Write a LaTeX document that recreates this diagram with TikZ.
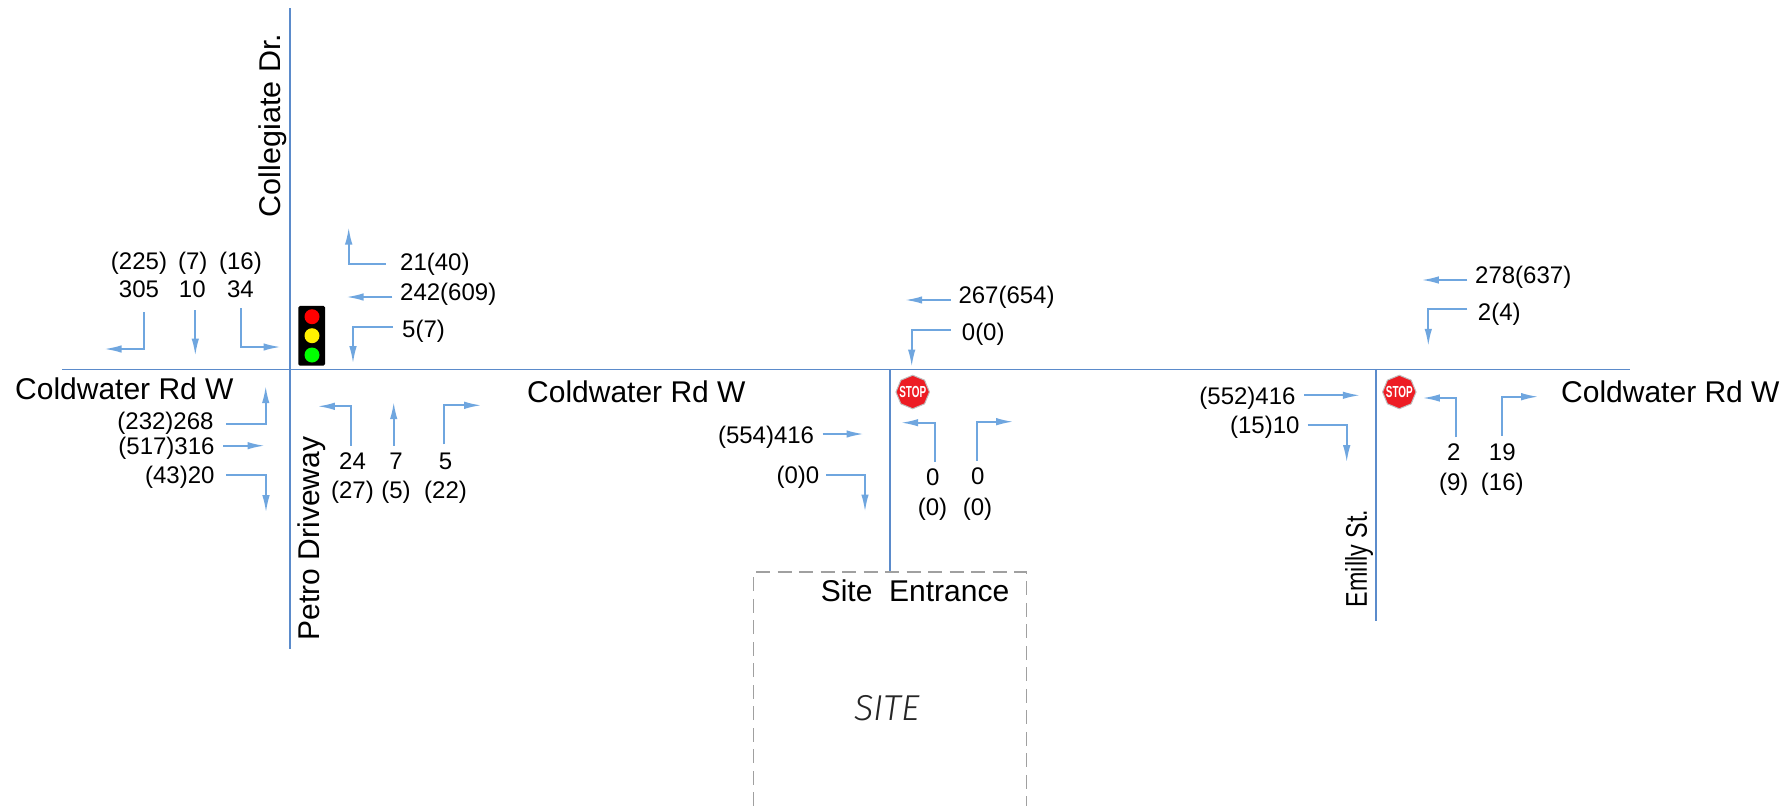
\documentclass[tikz,border=0pt]{standalone}
\usepackage{fontspec}
\setmainfont{Liberation Sans}
\newfontfamily\sitefont{Fira Sans}[UprightFont={* Light},ItalicFont={* Light Italic}]
\usetikzlibrary{arrows.meta,shapes.geometric}
\definecolor{roadblue}{HTML}{5B8BCB}
\definecolor{flowblue}{HTML}{6FA6DF}
\definecolor{sitegray}{HTML}{A0A0A0}
\definecolor{stopred}{HTML}{ED1C24}
\tikzset{
  road/.style={draw=roadblue,line width=1.7pt},
  flow/.style={draw=flowblue,line width=1.7pt,shorten >=-1.5pt,-{Latex[length=17pt,width=7.5pt]}},
  vol/.style={font=\fontsize{24}{24}\selectfont,inner sep=0pt,text height=17.2pt,text depth=0pt},
  roadname/.style={font=\fontsize{30}{30}\selectfont,inner sep=0pt,text height=21.5pt,text depth=0pt},
  stopsign/.style={regular polygon,regular polygon sides=8,shape border rotate=22.5,fill=stopred,draw=black!25,line width=1pt,minimum size=33.5pt,inner sep=0pt},
  stoptext/.style={text=white,font=\bfseries\fontsize{16}{16}\selectfont,inner sep=0pt,xscale=0.62},
  lamp/.style={circle,inner sep=0pt,minimum size=15pt},
}
\begin{document}
\begin{tikzpicture}[x=1pt,y=-1pt]
\useasboundingbox (0,0) rectangle (1792,806);
% roads
\coordinate (hw) at (62,369.4); \coordinate (he) at (1630,369.4);
\coordinate (c1n) at (290,8); \coordinate (c1s) at (290,649);
\coordinate (c2n) at (890,369.4); \coordinate (c2s) at (890,572);
\coordinate (c3n) at (1376.3,369.4); \coordinate (c3s) at (1376.3,620.6);
\draw[road] (hw) -- (he);
\draw[road] (c1n) -- (c1s);
\draw[road] (c2n) -- (c2s);
\draw[road] (c3n) -- (c3s);
% site
\coordinate (sa) at (753.7,806); \coordinate (sb) at (753.7,572); \coordinate (sc) at (1026.3,572); \coordinate (sd) at (1026.3,806);
\draw[sitegray,line width=1.5pt,dash pattern=on 14pt off 7.5pt] (sa) -- (sb) -- (sc) -- (sd);
\node[roadname] (nsentr) at (915,590.7) {Site\ \ Entrance};
\node[font=\sitefont\itshape\fontsize{36}{36}\selectfont,inner sep=0pt,text=black!85] (nsite) at (887,708) {SITE};
% road names
\node[roadname,anchor=west] (n1) at (15,389) {Coldwater Rd W};
\node[roadname,anchor=west] (n2) at (527,392) {Coldwater Rd W};
\node[roadname,anchor=west] (n3) at (1561,392) {Coldwater Rd W};
\node[roadname,rotate=90,xscale=1.017] (n4) at (270,125.5) {Collegiate Dr.};
\node[roadname,rotate=90] (n5) at (309,538.5) {Petro Driveway};
\node[roadname,rotate=90,xscale=0.776] (n6) at (1356,558.5) {Emilly St.};
% signal
\node[fill=black,rounded corners=1.5pt,minimum width=26.7pt,minimum height=59.7pt,inner sep=0pt] (sig) at (311.7,335.8) {};
\node[lamp,fill=red] (lr) at (312,316.7) {};
\node[lamp,fill=yellow] (ly) at (312,335.7) {};
\node[lamp,fill=green] (lg) at (312,355) {};
% stops
\node[stopsign] (st1) at (912.7,392) {};
\node[stoptext] (st1t) at (st1.center) {STOP};
\node[stopsign] (st2) at (1399.3,392) {};
\node[stoptext] (st2t) at (st2.center) {STOP};
% arrows intersection 1
\coordinate (a1s) at (385.7,264); \coordinate (a1e) at (348.7,229); \draw[flow] (a1s) -| (a1e);
\coordinate (a2s) at (392.3,297); \coordinate (a2e) at (348,297); \draw[flow] (a2s) -- (a2e);
\coordinate (a3s) at (393,326.7); \coordinate (a3e) at (353,361.7); \draw[flow] (a3s) -| (a3e);
\coordinate (a4s) at (144,312.3); \coordinate (a4e) at (106,349); \draw[flow] (a4s) |- (a4e);
\coordinate (a5s) at (195.3,310); \coordinate (a5e) at (195.3,354); \draw[flow] (a5s) -- (a5e);
\coordinate (a6s) at (241,308.3); \coordinate (a6e) at (279,347); \draw[flow] (a6s) |- (a6e);
\coordinate (a7s) at (226,423.7); \coordinate (a7e) at (265.7,387.7); \draw[flow] (a7s) -| (a7e);
\coordinate (a8s) at (223,445.7); \coordinate (a8e) at (263,445.7); \draw[flow] (a8s) -- (a8e);
\coordinate (a9s) at (226.3,475); \coordinate (a9e) at (266,510.7); \draw[flow] (a9s) -| (a9e);
\coordinate (a10s) at (350.7,445.7); \coordinate (a10e) at (319.3,406.3); \draw[flow] (a10s) |- (a10e);
\coordinate (a11s) at (393.7,445.7); \coordinate (a11e) at (393.7,403.7); \draw[flow] (a11s) -- (a11e);
\coordinate (a12s) at (444.3,444.3); \coordinate (a12e) at (479.7,405.3); \draw[flow] (a12s) |- (a12e);
% arrows intersection 2
\coordinate (b1s) at (950.7,300); \coordinate (b1e) at (906.7,300); \draw[flow] (b1s) -- (b1e);
\coordinate (b2s) at (950.7,329.7); \coordinate (b2e) at (911.7,365); \draw[flow] (b2s) -| (b2e);
\coordinate (b3s) at (822.7,434); \coordinate (b3e) at (862,434); \draw[flow] (b3s) -- (b3e);
\coordinate (b4s) at (826.3,474.7); \coordinate (b4e) at (865,510); \draw[flow] (b4s) -| (b4e);
\coordinate (b5s) at (934.7,461.7); \coordinate (b5e) at (902.7,422.7); \draw[flow] (b5s) |- (b5e);
\coordinate (b6s) at (976.7,461); \coordinate (b6e) at (1011.7,421.7); \draw[flow] (b6s) |- (b6e);
% arrows intersection 3
\coordinate (c1a) at (1467.3,280); \coordinate (c1b) at (1423.3,280); \draw[flow] (c1a) -- (c1b);
\coordinate (c2a) at (1467.3,309.3); \coordinate (c2b) at (1428.3,344.3); \draw[flow] (c2a) -| (c2b);
\coordinate (c3a) at (1304.3,395.3); \coordinate (c3b) at (1358.3,395.3); \draw[flow] (c3a) -- (c3b);
\coordinate (c4a) at (1307.7,424.7); \coordinate (c4b) at (1346.7,460.7); \draw[flow] (c4a) -| (c4b);
\coordinate (c5a) at (1456.3,437.3); \coordinate (c5b) at (1424.3,398); \draw[flow] (c5a) |- (c5b);
\coordinate (c6a) at (1501.7,435.7); \coordinate (c6b) at (1536.7,396.7); \draw[flow] (c6a) |- (c6b);
% volumes intersection 1
\node[vol] (v1) at (139,260.7) {(225)};
\node[vol] (v2) at (139,289) {305};
\node[vol] (v3) at (192.7,260.7) {(7)};
\node[vol] (v4) at (192.3,289) {10};
\node[vol] (v5) at (240.5,260.7) {(16)};
\node[vol] (v6) at (240.5,289) {34};
\node[vol,anchor=west] (v7) at (400,261.7) {21(40)};
\node[vol,anchor=west] (v8) at (400,291.7) {242(609)};
\node[vol,anchor=west] (v9) at (402,329) {5(7)};
\node[vol,anchor=east] (v10) at (213.7,420.5) {(232)268};
\node[vol,anchor=east] (v11) at (214.7,445.5) {(517)316};
\node[vol,anchor=east] (v12) at (214.7,474.5) {(43)20};
\node[vol] (v13) at (352.5,460.7) {24};
\node[vol] (v14) at (352.5,490) {(27)};
\node[vol] (v15) at (396,460.7) {7};
\node[vol] (v16) at (396,490) {(5)};
\node[vol] (v17) at (445.5,460.7) {5};
\node[vol] (v18) at (445.5,490) {(22)};
% volumes intersection 2
\node[vol,anchor=west] (w1) at (958.3,295) {267(654)};
\node[vol,anchor=west] (w2) at (961.7,332) {0(0)};
\node[vol,anchor=east] (w3) at (814.3,434.5) {(554)416};
\node[vol,anchor=east] (w4) at (819.5,475.2) {(0)0};
\node[vol] (w5) at (932.7,477.3) {0};
\node[vol] (w6) at (932.5,507) {(0)};
\node[vol] (w7) at (977.8,476) {0};
\node[vol] (w8) at (977.5,507) {(0)};
% volumes intersection 3
\node[vol,anchor=west] (u1) at (1475,275) {278(637)};
\node[vol,anchor=west] (u2) at (1477.7,312.3) {2(4)};
\node[vol,anchor=east] (u3) at (1295.7,396.2) {(552)416};
\node[vol,anchor=east] (u4) at (1299.7,424.5) {(15)10};
\node[vol] (u5) at (1453.7,451.7) {2};
\node[vol] (u6) at (1453.7,481.7) {(9)};
\node[vol] (u7) at (1502.3,451.7) {19};
\node[vol] (u8) at (1502.3,481.7) {(16)};
\end{tikzpicture}
\end{document}
